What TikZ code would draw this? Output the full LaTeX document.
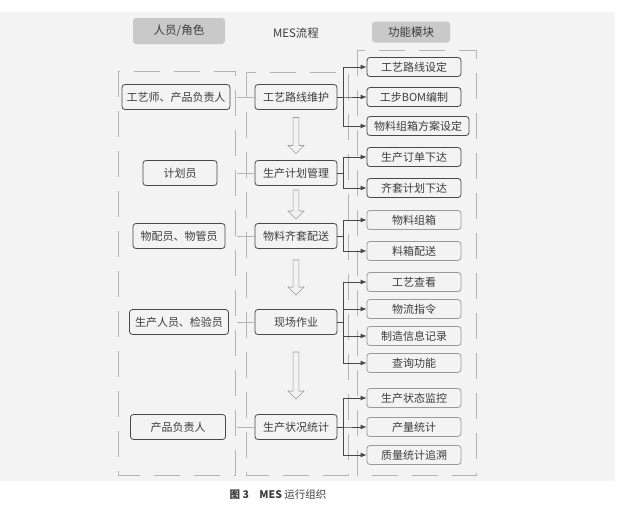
\documentclass[tikz,border=0pt]{standalone}
\usepackage{fontspec}
\setmainfont{Noto Sans CJK SC}
\usetikzlibrary{arrows.meta,shapes.arrows}
\definecolor{pagegray}{HTML}{F3F3F3}
\definecolor{headgray}{HTML}{C9C9C9}
\definecolor{boxline}{HTML}{484848}
\definecolor{boxlight}{HTML}{9A9A9A}
\definecolor{txtgray}{HTML}{3C3C3C}
\definecolor{framegray}{HTML}{B4B4B4}
\tikzset{
  rolebox/.style={draw=boxline, rounded corners=3pt, line width=0.8pt, minimum height=25pt, text=txtgray, font=\fontsize{11}{13}\selectfont},
  flowbox/.style={rolebox, minimum width=82pt},
  modbox/.style={rolebox, minimum height=19pt, minimum width=94pt},
  modboxlt/.style={modbox, draw=boxlight},
  headbox/.style={fill=headgray, rounded corners=3pt, minimum height=26pt, text=txtgray, font=\fontsize{11.5}{13}\selectfont},
  frame/.style={draw=framegray, line width=0.6pt, dash pattern=on 26pt off 14pt},
  stub/.style={draw=framegray, line width=0.8pt},
  feed/.style={draw=boxline, line width=0.8pt, -{Latex[length=6pt,width=5pt]}},
  downarrow/.style={single arrow, shape border rotate=270, draw=boxlight, fill=pagegray, line width=0.6pt,
    inner sep=2.6pt, minimum width=16pt, single arrow head extend=5pt, single arrow head indent=0pt}
}
\begin{document}
\begin{tikzpicture}[x=1pt, y=-1pt]
  \useasboundingbox (0,0) rectangle (633,506);
  \fill[pagegray] (0,12) rectangle (615,481);

  % column headers
  \node[headbox, minimum width=92pt] (hrole) at (179,31) {人员/角色};
  \node[text=txtgray, font=\fontsize{11.5}{13}\selectfont] (hflow) at (296,33) {MES流程};
  \node[headbox, minimum width=78pt, minimum height=21pt] (hmod) at (411,32) {功能模块};

  % dashed column frames
  \draw[frame] (118,71) rectangle (235,475);
  \draw[frame] (246,72) rectangle (348,475);
  \draw[frame] (357,50) rectangle (476,475);

  % roles
  \node[rolebox, minimum width=108pt] (l1) at (176,97) {工艺师、产品负责人};
  \node[rolebox, minimum width=74pt] (l2) at (180,173) {计划员};
  \node[rolebox, minimum width=92pt] (l3) at (179,236) {物配员、物管员};
  \node[rolebox, minimum width=99pt] (l4) at (179,322) {生产人员、检验员};
  \node[rolebox, minimum width=95pt] (l5) at (178,427) {产品负责人};

  % MES flow
  \node[flowbox] (m1) at (296,97) {工艺路线维护};
  \node[flowbox] (m2) at (296,173) {生产计划管理};
  \node[flowbox] (m3) at (296,236) {物料齐套配送};
  \node[flowbox] (m4) at (296,322) {现场作业};
  \node[flowbox] (m5) at (296,427) {生产状况统计};

  \foreach \i in {1,...,5}
    \draw[stub] (m\i.west) -- ++(-18,0);

  % hollow arrows between steps
  \node[downarrow, minimum height=36pt] (a1) at (296,134) {};
  \node[downarrow, minimum height=29pt] (a2) at (296,203) {};
  \node[downarrow, minimum height=35pt] (a3) at (296,276) {};
  \node[downarrow, minimum height=47pt] (a4) at (296,374) {};

  % function modules
  \node[modbox] (r1) at (414,67) {工艺路线设定};
  \node[modbox] (r2) at (414,97) {工步BOM编制};
  \node[modbox, minimum width=102pt] (r3) at (418,126) {物料组箱方案设定};
  \node[modbox] (r4) at (414,157) {生产订单下达};
  \node[modbox] (r5) at (414,188) {齐套计划下达};
  \node[modboxlt] (r6) at (414,220) {物料组箱};
  \node[modboxlt] (r7) at (414,251) {料箱配送};
  \node[modboxlt] (r8) at (414,282) {工艺查看};
  \node[modboxlt] (r9) at (414,309) {物流指令};
  \node[modboxlt] (r10) at (414,336) {制造信息记录};
  \node[modboxlt] (r11) at (414,363) {查询功能};
  \node[modboxlt] (r12) at (414,398) {生产状态监控};
  \node[modboxlt] (r13) at (414,427) {产量统计};
  \node[modboxlt] (r14) at (414,455) {质量统计追溯};

  % feeds from flow to modules
  \foreach \r in {1,2,3}
    \draw[feed] (m1.east) -- ++(6,0) |- (r\r.west);
  \foreach \r in {4,5}
    \draw[feed] (m2.east) -- ++(6,0) |- (r\r.west);
  \foreach \r in {6,7}
    \draw[feed] (m3.east) -- ++(6,0) |- (r\r.west);
  \foreach \r in {8,...,11}
    \draw[feed] (m4.east) -- ++(6,0) |- (r\r.west);
  \foreach \r in {12,13,14}
    \draw[feed] (m5.east) -- ++(6,0) |- (r\r.west);

  % caption
  \node[text=txtgray, font=\fontsize{10.5}{12}\selectfont] (cap) at (278,495) {\textbf{图 3}\quad\textbf{MES} 运行组织};
\end{tikzpicture}
\end{document}
